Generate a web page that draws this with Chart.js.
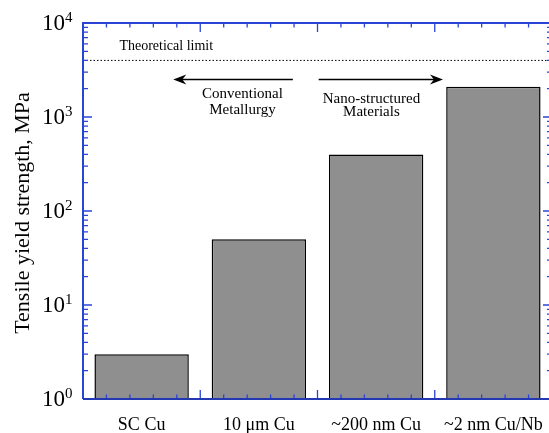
<!DOCTYPE html>
<html>
<head>
<meta charset="utf-8">
<script src="https://cdn.jsdelivr.net/npm/chart.js"></script>
<style>
  html, body { margin: 0; padding: 0; background: #fff; width: 549px; height: 433px; overflow: hidden; }
  /* plot box runs 3px past the window, so its right axis line is cut off like the original */
  #chart { display: block; width: 552px; height: 433px; }
</style>
</head>
<body>
<canvas id="chart" width="552" height="433"></canvas>
<script>
// data
const categories = ['SC Cu', '10 \u03bcm Cu', '~200 nm Cu', '~2 nm Cu/Nb'];
const strength = [3, 50, 400, 2100];       // MPa
const decades = [1, 10, 100, 1000, 10000];
const decadePowers = ['0', '1', '2', '3', '4'];
const limitValue = 4000;                   // theoretical limit, MPa
const limitLabel = 'Theoretical limit';

// notes above the bars (x in category units, y in MPa)
const arrowLevel = 2500;
const arrowFrom = [1.29, 1.51];
const arrowTo = [0.27, 2.57];
const noteX = [0.86, 1.96];
const noteLines = [['Conventional', 'Metallurgy'], ['Nano-structured', 'Materials']];
const noteLevels = [[1770, 1190], [1560, 1120]];

const SERIF = "'Liberation Serif', 'Times New Roman', serif";
const AXIS_BLUE = '#2a44d6';

Chart.defaults.font.family = SERIF;
Chart.defaults.color = '#000';

function drawArrow(ctx, x0, x1, y) {
  const dir = x1 > x0 ? 1 : -1;
  ctx.strokeStyle = '#000';
  ctx.lineWidth = 1.5;
  ctx.beginPath();
  ctx.moveTo(x0, y);
  ctx.lineTo(x1 - dir * 6, y);
  ctx.stroke();
  ctx.fillStyle = '#000';
  ctx.beginPath();
  ctx.moveTo(x1, y);
  ctx.lineTo(x1 - dir * 13, y - 5);
  ctx.lineTo(x1 - dir * 9, y);
  ctx.lineTo(x1 - dir * 13, y + 5);
  ctx.closePath();
  ctx.fill();
}

// axes box with inward ticks, log labels, notes
const framePlugin = {
  id: 'frame',
  afterDatasetsDraw(chart) {
    const { ctx, chartArea: a, scales: { x, y } } = chart;
    ctx.save();

    // theoretical limit line
    const ly = y.getPixelForValue(limitValue);
    ctx.strokeStyle = '#000';
    ctx.lineWidth = 1;
    ctx.setLineDash([1.5, 2]);
    ctx.beginPath();
    ctx.moveTo(a.left, ly);
    ctx.lineTo(a.right, ly);
    ctx.stroke();
    ctx.setLineDash([]);

    ctx.font = '14px ' + SERIF;
    ctx.fillStyle = '#000';
    ctx.textAlign = 'center';
    ctx.textBaseline = 'middle';
    ctx.fillText(limitLabel, x.getPixelForValue(0.21), y.getPixelForValue(5600));

    // arrows + notes
    const ay = y.getPixelForValue(arrowLevel);
    for (let i = 0; i < arrowFrom.length; i++) {
      drawArrow(ctx, x.getPixelForValue(arrowFrom[i]), x.getPixelForValue(arrowTo[i]), ay);
    }
    ctx.font = '15px ' + SERIF;
    noteLines.forEach((lines, i) => {
      lines.forEach((t, j) => {
        ctx.fillText(t, x.getPixelForValue(noteX[i]), y.getPixelForValue(noteLevels[i][j]));
      });
    });

    // ticks
    ctx.strokeStyle = AXIS_BLUE;
    ctx.lineWidth = 1.3;
    ctx.beginPath();
    for (let d = 0; d < decades.length; d++) {
      const base = decades[d];
      const py = y.getPixelForValue(base);
      ctx.moveTo(a.left, py); ctx.lineTo(a.left + 9, py);
      ctx.moveTo(a.right, py); ctx.lineTo(a.right - 9, py);
      if (d < decades.length - 1) {
        for (let m = 2; m <= 9; m++) {
          const my = y.getPixelForValue(base * m);
          ctx.moveTo(a.left, my); ctx.lineTo(a.left + 5, my);
          ctx.moveTo(a.right, my); ctx.lineTo(a.right - 5, my);
        }
      }
    }
    const steps = categories.length * 5;
    for (let k = 0; k <= steps; k++) {
      const px = x.getPixelForValue(-0.5 + k / 5);
      const len = k % 5 === 0 ? 9 : 4.5;
      ctx.moveTo(px, a.bottom); ctx.lineTo(px, a.bottom - len);
      ctx.moveTo(px, a.top); ctx.lineTo(px, a.top + len);
    }
    ctx.stroke();

    // axis lines
    ctx.lineWidth = 2;
    ctx.beginPath();
    ctx.moveTo(a.left, a.bottom); ctx.lineTo(a.left, a.top); ctx.lineTo(a.right, a.top);
    ctx.stroke();
    ctx.strokeStyle = '#2438b4';
    ctx.beginPath();
    ctx.moveTo(a.left, a.bottom); ctx.lineTo(a.right, a.bottom);
    ctx.stroke();

    // log tick labels 10^n
    ctx.fillStyle = '#000';
    decades.forEach((v, i) => {
      const py = y.getPixelForValue(v);
      ctx.font = '15px ' + SERIF;
      ctx.textAlign = 'left';
      ctx.textBaseline = 'alphabetic';
      const supX = a.left - 18;
      ctx.fillText(decadePowers[i], supX, py - 1);
      ctx.font = '23px ' + SERIF;
      ctx.textAlign = 'right';
      ctx.textBaseline = 'middle';
      ctx.fillText('10', supX, py + 1);
    });

    // y title
    ctx.save();
    ctx.translate(23, 213);
    ctx.rotate(-Math.PI / 2);
    ctx.font = '22px ' + SERIF;
    ctx.textAlign = 'center';
    ctx.textBaseline = 'middle';
    ctx.fillText('Tensile yield strength, MPa', 0, 0);
    ctx.restore();

    ctx.restore();
  }
};

new Chart(document.getElementById('chart'), {
  type: 'bar',
  data: {
    labels: categories,
    datasets: [{
      data: strength,
      backgroundColor: '#8f8f8f',
      borderColor: '#000',
      borderWidth: 1.5,
      borderSkipped: 'bottom',
      categoryPercentage: 1,
      barPercentage: 0.805
    }]
  },
  options: {
    responsive: false,
    animation: false,
    devicePixelRatio: 1,
    layout: { padding: { top: 23, right: 0, bottom: 0, left: 0 } },
    plugins: { legend: { display: false }, tooltip: { enabled: false } },
    scales: {
      x: {
        grid: { display: false, drawTicks: false },
        border: { display: false },
        ticks: { font: { size: 18, family: SERIF }, color: '#000', padding: 15, maxRotation: 0 },
        afterFit(scale) {
          scale.height = 34;
          // long last label must not shrink the plot box
          scale.paddingLeft = 0;
          scale.paddingRight = 0;
        }
      },
      y: {
        type: 'logarithmic',
        min: 1,
        max: 10000,
        grid: { display: false, drawTicks: false },
        border: { display: false },
        ticks: { display: false },
        afterFit(scale) {
          scale.width = 83;
          scale.paddingTop = 0;
          scale.paddingBottom = 0;
        }
      }
    }
  },
  plugins: [framePlugin]
});
</script>
</body>
</html>
